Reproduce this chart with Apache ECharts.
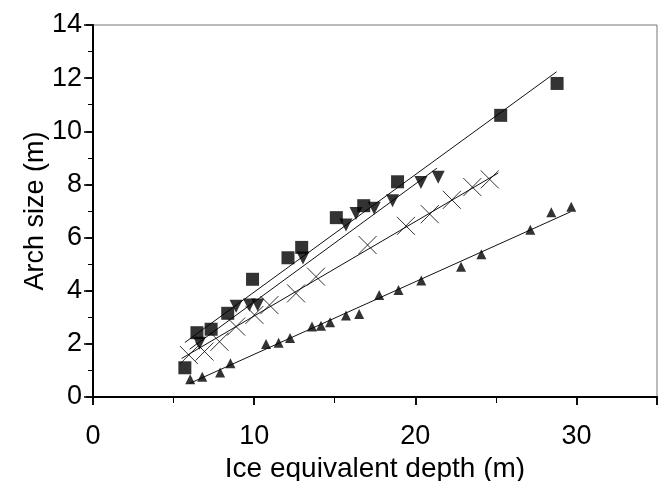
<!DOCTYPE html>
<html>
<head>
<meta charset="utf-8">
<script src="https://cdn.jsdelivr.net/npm/echarts@6/dist/echarts.min.js"></script>
<style>
  html, body { margin: 0; padding: 0; background: #fff; }
  #chart { width: 659px; height: 481px; }
</style>
</head>
<body>
<div id="chart"></div>
<script>
// points: [ice equivalent depth, arch size]
var squarePts = [[5.7, 1.1], [6.45, 2.42], [7.33, 2.55], [8.36, 3.15], [9.9, 4.43], [12.1, 5.24],
  [12.95, 5.63], [15.1, 6.75], [16.8, 7.2], [18.9, 8.1], [25.3, 10.6], [28.8, 11.8]];
var downPts = [[6.61, 2.02], [8.88, 3.42], [9.71, 3.46], [10.22, 3.46], [13.03, 5.23], [15.7, 6.47],
  [16.32, 6.91], [17.45, 7.1], [18.59, 7.39], [20.35, 8.07], [21.42, 8.27]];
var crossPts = [[5.95, 1.58], [6.92, 1.71], [7.85, 2.08], [8.88, 2.65], [10.02, 3.09], [10.95, 3.46],
  [12.6, 3.9], [13.84, 4.53], [17.04, 5.72], [19.42, 6.44], [20.9, 6.88], [22.27, 7.42],
  [23.54, 7.9], [24.62, 8.19]];
var upPts = [[6.03, 0.67], [6.78, 0.76], [7.89, 0.92], [8.53, 1.27], [10.74, 1.99], [11.52, 2.04],
  [12.23, 2.22], [13.59, 2.65], [14.15, 2.68], [14.71, 2.81], [15.7, 3.07], [16.52, 3.12],
  [17.76, 3.84], [18.96, 4.03], [20.37, 4.38], [22.84, 4.9], [24.1, 5.37], [27.14, 6.29],
  [28.44, 6.95], [29.68, 7.16]];

// fitted lines, end points
var squareFit = [[5.7, 2.05], [28.77, 12.24]];
var downFit = [[6.0, 1.8], [21.34, 8.61]];
var crossFit = [[5.5, 1.45], [25.15, 8.43]];
var upFit = [[5.99, 0.51], [29.64, 6.97]];

var xTicks = [0, 10, 20, 30];
var yTicks = [0, 2, 4, 6, 8, 10, 12, 14];

var font = 'Liberation Sans, Arial, sans-serif';
var chart = echarts.init(document.getElementById('chart'));

function scatter(data, symbol, size, rotate) {
  return {
    type: 'scatter',
    data: data,
    symbol: symbol,
    symbolSize: size,
    symbolRotate: rotate || 0,
    itemStyle: { color: '#000' },
    z: 5
  };
}

function fitLine(data) {
  return {
    type: 'line',
    data: data,
    symbol: 'none',
    lineStyle: { color: '#111', width: 1 },
    z: 3
  };
}

// second pair of axes, only to draw the inner half of the crossing ticks
var innerX = {
  type: 'value', min: 0, max: 35, interval: 10,
  axisLine: { show: false }, splitLine: { show: false },
  axisLabel: { show: false },
  axisTick: { inside: true, length: 8, lineStyle: { color: '#000', width: 1.5 } },
  minorTick: { show: true, splitNumber: 2, length: 6, lineStyle: { color: '#000', width: 1 } },
  minorSplitLine: { show: false }
};
var innerY = {
  type: 'value', min: 0, max: 14, interval: 2,
  axisLine: { show: false }, splitLine: { show: false },
  axisLabel: { show: false },
  axisTick: { inside: true, length: 7, lineStyle: { color: '#000', width: 1.5 } },
  minorTick: { show: true, splitNumber: 2, length: 5, lineStyle: { color: '#000', width: 1 } },
  minorSplitLine: { show: false }
};

chart.setOption({
  animation: false,
  backgroundColor: '#fff',
  grid: {
    left: 93, right: 2, top: 25, bottom: 84,
    outerBoundsMode: 'none',
    containLabel: false,
    show: true, borderColor: '#777', borderWidth: 1, backgroundColor: 'transparent'
  },
  xAxis: [{
    type: 'value', min: 0, max: 35, interval: 10,
    name: 'Ice equivalent depth (m)',
    nameLocation: 'middle', nameGap: 53,
    nameTextStyle: { fontFamily: font, fontSize: 28, color: '#000' },
    axisLine: { show: true, lineStyle: { color: '#000', width: 2 } },
    axisTick: { inside: false, length: 8, lineStyle: { color: '#000', width: 1.5 } },
    minorTick: { show: true, splitNumber: 2, length: 6, lineStyle: { color: '#000', width: 1 } },
    splitLine: { show: false },
    axisLabel: {
      fontFamily: font, fontSize: 27, color: '#000', margin: 26,
      formatter: function (v) { return xTicks.indexOf(v) >= 0 ? String(v) : ''; }
    }
  }, innerX],
  yAxis: [{
    type: 'value', min: 0, max: 14, interval: 2,
    name: 'Arch size (m)',
    nameLocation: 'middle', nameGap: 44,
    nameMoveOverlap: false,
    nameTextStyle: { fontFamily: font, fontSize: 27, color: '#000' },
    axisLine: { show: true, lineStyle: { color: '#000', width: 2 } },
    axisTick: { inside: false, length: 9, lineStyle: { color: '#000', width: 1.5 } },
    minorTick: { show: true, splitNumber: 2, length: 5, lineStyle: { color: '#000', width: 1 } },
    splitLine: { show: false },
    axisLabel: {
      fontFamily: font, fontSize: 27, color: '#000', margin: 11,
      formatter: function (v) { return yTicks.indexOf(v) >= 0 ? String(v) : ''; }
    }
  }, innerY],
  series: [
    fitLine(squareFit),
    fitLine(downFit),
    fitLine(crossFit),
    fitLine(upFit),
    scatter(squarePts, 'rect', 13),
    scatter(downPts, 'triangle', 13, 180),
    {
      type: 'scatter',
      data: crossPts,
      symbol: 'path://M0,0L10,10M10,0L0,10',
      symbolSize: 18,
      itemStyle: { color: 'none', borderColor: '#000', borderWidth: 1 },
      z: 5
    },
    scatter(upPts, 'triangle', 10)
  ]
});
</script>
</body>
</html>
